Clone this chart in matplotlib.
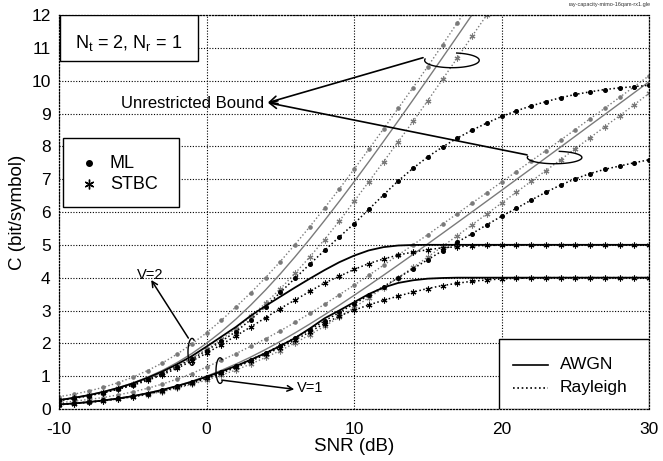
import matplotlib
matplotlib.use('Agg')
import numpy as np
import matplotlib.pyplot as plt
from matplotlib.patches import Rectangle

plt.rcParams['font.family'] = ['Liberation Sans', 'DejaVu Sans']
plt.rcParams['mathtext.fontset'] = 'custom'
plt.rcParams['mathtext.rm'] = 'Liberation Sans'
plt.rcParams['mathtext.it'] = 'Liberation Sans'

# ---------------- data ----------------
snr_db = list(range(-10, 31))

# Unrestricted bound, AWGN (grey solid)
awgn_unres_v1 = [0.138, 0.171, 0.213, 0.263, 0.323, 0.396, 0.484, 0.586, 0.706, 0.844,
                 1.000, 1.176, 1.370, 1.583, 1.812, 2.057, 2.317, 2.588, 2.870, 3.161,
                 3.459, 3.764, 4.075, 4.389, 4.707, 5.028, 5.351, 5.676, 6.002, 6.330,
                 6.658, 6.988, 7.317, 7.647, 7.977, 8.308, 8.640, 8.970, 9.302, 9.634, 9.967]
awgn_unres_v2 = [0.275, 0.342, 0.425, 0.526, 0.647, 0.792, 0.967, 1.172, 1.411, 1.687,
                 2.000, 2.352, 2.740, 3.166, 3.624, 4.114, 4.634, 5.176, 5.740, 6.322,
                 6.918, 7.528, 8.150, 8.778, 9.414, 10.056, 10.702, 11.352, 12.004, 12.66]

# Unrestricted bound, Rayleigh (grey dotted): ML (dots) and STBC (stars)
ray_unres_ml_v2 = [0.375, 0.45, 0.545, 0.66, 0.80, 0.97, 1.17, 1.40, 1.67, 1.98,
                   2.32, 2.70, 3.11, 3.54, 4.00, 4.49, 5.01, 5.55, 6.12, 6.70,
                   7.30, 7.91, 8.53, 9.16, 9.79, 10.43, 11.09, 11.76, 12.42]
ray_unres_stbc_v2 = [0.27, 0.335, 0.415, 0.51, 0.625, 0.76, 0.92, 1.10, 1.31, 1.55,
                     1.82, 2.12, 2.45, 2.82, 3.22, 3.66, 4.13, 4.63, 5.16, 5.72,
                     6.32, 6.92, 7.53, 8.14, 8.76, 9.39, 10.04, 10.69, 11.35, 12.0, 12.66]
ray_unres_ml_v1 = [0.19, 0.235, 0.29, 0.35, 0.43, 0.52, 0.63, 0.76, 0.91, 1.08,
                   1.28, 1.48, 1.69, 1.91, 2.14, 2.38, 2.64, 2.91, 3.19, 3.48,
                   3.77, 4.07, 4.38, 4.69, 5.00, 5.31, 5.63, 5.95, 6.27, 6.59,
                   6.91, 7.23, 7.55, 7.87, 8.19, 8.51, 8.84, 9.16, 9.49, 9.82, 10.15]
ray_unres_stbc_v1 = [0.13, 0.16, 0.20, 0.245, 0.30, 0.365, 0.44, 0.53, 0.63, 0.75,
                     0.88, 1.03, 1.19, 1.37, 1.57, 1.78, 2.01, 2.26, 2.52, 2.80,
                     3.09, 3.39, 3.69, 4.00, 4.31, 4.63, 4.95, 5.28, 5.61, 5.94,
                     6.27, 6.60, 6.93, 7.26, 7.59, 7.93, 8.26, 8.60, 8.93, 9.27, 9.61]

# 16QAM, AWGN (black solid)
awgn_qam_v1 = [0.137, 0.17, 0.21, 0.26, 0.32, 0.39, 0.48, 0.58, 0.70, 0.83,
               0.98, 1.14, 1.31, 1.50, 1.70, 1.92, 2.16, 2.45, 2.76, 3.00,
               3.25, 3.50, 3.70, 3.84, 3.92, 3.97, 3.99, 4.0, 4.0, 4.0,
               4.0, 4.0, 4.0, 4.0, 4.0, 4.0, 4.0, 4.0, 4.0, 4.0, 4.0]
awgn_qam_v2 = [0.27, 0.34, 0.42, 0.52, 0.64, 0.78, 0.95, 1.14, 1.36, 1.61,
               1.90, 2.20, 2.50, 2.84, 3.14, 3.42, 3.70, 3.97, 4.23, 4.47,
               4.67, 4.83, 4.93, 4.98, 4.995, 5.0, 5.0, 5.0, 5.0, 5.0,
               5.0, 5.0, 5.0, 5.0, 5.0, 5.0, 5.0, 5.0, 5.0, 5.0, 5.0]

# 16QAM, Rayleigh, STBC (black dotted, stars)
ray_stbc_v1 = [0.13, 0.165, 0.205, 0.25, 0.31, 0.375, 0.455, 0.55, 0.655, 0.78,
               0.93, 1.09, 1.27, 1.46, 1.66, 1.87, 2.10, 2.35, 2.60, 2.83,
               3.01, 3.17, 3.31, 3.44, 3.56, 3.67, 3.76, 3.83, 3.89, 3.93,
               3.96, 3.98, 3.99, 4.0, 4.0, 4.0, 4.0, 4.0, 4.0, 4.0, 4.0]
ray_stbc_v2 = [0.26, 0.32, 0.40, 0.49, 0.60, 0.72, 0.87, 1.04, 1.24, 1.46,
               1.70, 1.96, 2.23, 2.50, 2.78, 3.06, 3.32, 3.58, 3.84, 4.04,
               4.25, 4.43, 4.57, 4.69, 4.78, 4.85, 4.91, 4.94, 4.97, 4.98,
               4.99, 5.0, 5.0, 5.0, 5.0, 5.0, 5.0, 5.0, 5.0, 5.0, 5.0]

# 16QAM, Rayleigh, ML (black dotted, dots)
ray_ml_v2 = [0.27, 0.33, 0.41, 0.50, 0.61, 0.74, 0.90, 1.08, 1.29, 1.52,
             1.78, 2.06, 2.36, 2.72, 3.12, 3.55, 3.98, 4.41, 4.83, 5.24,
             5.64, 6.08, 6.52, 6.95, 7.33, 7.68, 7.98, 8.25, 8.49, 8.71,
             8.91, 9.08, 9.23, 9.36, 9.48, 9.58, 9.66, 9.73, 9.78, 9.82, 9.86]
ray_ml_v1 = [0.135, 0.17, 0.21, 0.26, 0.32, 0.39, 0.47, 0.57, 0.69, 0.82,
             0.97, 1.13, 1.31, 1.50, 1.71, 1.93, 2.17, 2.42, 2.68, 2.94,
             3.20, 3.46, 3.73, 4.00, 4.27, 4.55, 4.82, 5.08, 5.34, 5.61,
             5.87, 6.11, 6.36, 6.60, 6.82, 7.01, 7.17, 7.30, 7.40, 7.50, 7.59]

x_ticks = [-10, 0, 10, 20, 30]
y_ticks = list(range(0, 13))

# ---------------- figure ----------------
fig = plt.figure(figsize=(6.63, 4.61), dpi=100)
ax = fig.add_axes([59 / 663, 52 / 461, 590 / 663, 394 / 461])

grey = '#7a7a7a'
star = (6, 2, 0)
dots_ls = (0, (1, 1.6))


def xs(vals):
    return snr_db[:len(vals)]


# grey unrestricted curves
for vals in (awgn_unres_v1, awgn_unres_v2):
    ax.plot(xs(vals), vals, color=grey, lw=1.0, zorder=2)
for vals in (ray_unres_ml_v1, ray_unres_ml_v2):
    ax.plot(xs(vals), vals, color=grey, lw=1.0, ls=dots_ls, marker='o', ms=2.3,
            mec=grey, mfc=grey, zorder=2)
for vals in (ray_unres_stbc_v1, ray_unres_stbc_v2):
    ax.plot(xs(vals), vals, color=grey, lw=1.0, ls=dots_ls, marker=star, ms=4.2,
            mew=0.8, mec=grey, zorder=2)

# black 16QAM curves
for vals in (awgn_qam_v1, awgn_qam_v2):
    ax.plot(xs(vals), vals, color='black', lw=1.3, zorder=3)
for vals in (ray_stbc_v1, ray_stbc_v2):
    ax.plot(xs(vals), vals, color='black', lw=1.1, ls=dots_ls, marker=star, ms=4.2,
            mew=0.8, mec='black', zorder=3)
for vals in (ray_ml_v1, ray_ml_v2):
    ax.plot(xs(vals), vals, color='black', lw=1.1, ls=dots_ls, marker='o', ms=2.6,
            mec='black', mfc='black', zorder=3)

ax.set_xlim(-10, 30)
ax.set_ylim(0, 12)
ax.set_xticks(x_ticks)
ax.set_yticks(y_ticks)
ax.set_xticklabels([str(v) for v in x_ticks], fontsize=12.5)
ax.set_yticklabels([str(v) for v in y_ticks], fontsize=12.5)
ax.tick_params(length=0, pad=6)
ax.tick_params(axis='x', pad=9)
ax.grid(True, color='black', ls=(0, (1, 1.5)), lw=0.8)
for sp in ax.spines.values():
    sp.set_linestyle((0, (1, 1.5)))
    sp.set_linewidth(0.9)
ax.set_xlabel('SNR (dB)', fontsize=13.5, labelpad=1)
ax.set_ylabel('C (bit/symbol)', fontsize=13.5, labelpad=4)


def open_ellipse(cx, cy, w, h, t0, t1):
    t = np.radians(np.linspace(t0, t1, 80))
    ax.plot(cx + 0.5 * w * np.cos(t), cy + 0.5 * h * np.sin(t), color='black', lw=1.0,
            zorder=6, clip_on=False)


# ---------------- annotations ----------------
ax.text(3.9, 9.3, 'Unrestricted Bound', ha='right', va='center', fontsize=12, zorder=6)
arrow_kw = dict(arrowstyle='->', color='black', lw=1.2, mutation_scale=14,
                shrinkA=0, shrinkB=0)
ax.annotate('', xy=(4.15, 9.33), xytext=(14.68, 10.70), arrowprops=arrow_kw, zorder=6)
ax.annotate('', xy=(4.15, 9.33), xytext=(21.73, 7.74), arrowprops=arrow_kw, zorder=6)
open_ellipse(16.64, 10.62, 3.7, 0.45, 170, 440)
open_ellipse(23.6, 7.66, 3.7, 0.38, 170, 440)

ax.text(-3.83, 4.07, 'V=2', ha='center', va='center', fontsize=10.5, zorder=6)
ax.annotate('', xy=(-3.75, 3.93), xytext=(-1.23, 2.16), arrowprops=dict(arrowstyle='->', color='black', lw=1.1,
            mutation_scale=10, shrinkA=0, shrinkB=0), zorder=6)
open_ellipse(-0.98, 1.74, 0.55, 0.82, 60, 300)

ax.text(6.1, 0.63, 'V=1', ha='left', va='center', fontsize=10.5, zorder=6)
ax.annotate('', xy=(5.95, 0.60), xytext=(1.03, 0.88), arrowprops=dict(arrowstyle='->', color='black', lw=1.1,
            mutation_scale=10, shrinkA=0, shrinkB=0), zorder=6)
open_ellipse(0.92, 1.17, 0.55, 0.78, 60, 300)

# ---------------- boxes ----------------
T = ax.transAxes
ax.add_patch(Rectangle((0.0017, 0.883), 0.234, 0.117, transform=T, fc='white', ec='black', lw=1.0, zorder=7))
ax.text(0.1185, 0.929, r'$\mathrm{N_t}$ = 2, $\mathrm{N_r}$ = 1', transform=T, ha='center', va='center',
        fontsize=13, zorder=8)

ax.add_patch(Rectangle((0.0073, 0.513), 0.196, 0.175, transform=T, fc='white', ec='black', lw=1.0, zorder=7))
ax.plot([0.0508], [0.624], transform=T, marker='o', ms=4, color='black', ls='none', zorder=8)
ax.plot([0.0508], [0.571], transform=T, marker=star, ms=7, mew=1.0, color='black', ls='none', zorder=8)
ax.text(0.086, 0.624, 'ML', transform=T, ha='left', va='center', fontsize=13, zorder=8)
ax.text(0.086, 0.571, 'STBC', transform=T, ha='left', va='center', fontsize=13, zorder=8)

ax.add_patch(Rectangle((0.7458, 0.0), 0.2542, 0.177, transform=T, fc='white', ec='black', lw=1.0, zorder=7))
ax.plot([0.7695, 0.8288], [0.1117, 0.1117], transform=T, color='black', lw=1.2, zorder=8)
ax.plot([0.7695, 0.8288], [0.0533, 0.0533], transform=T, color='black', lw=1.2, ls=dots_ls, zorder=8)
ax.text(0.849, 0.1117, 'AWGN', transform=T, ha='left', va='center', fontsize=12.5, zorder=8)
ax.text(0.849, 0.0533, 'Rayleigh', transform=T, ha='left', va='center', fontsize=12.5, zorder=8)

fig.text(0.982, 0.991, 'ray-capacity-mimo-16qam-rx1.gle', ha='right', va='center', fontsize=4, color='#333333')

fig.savefig('out.png', dpi=100)
